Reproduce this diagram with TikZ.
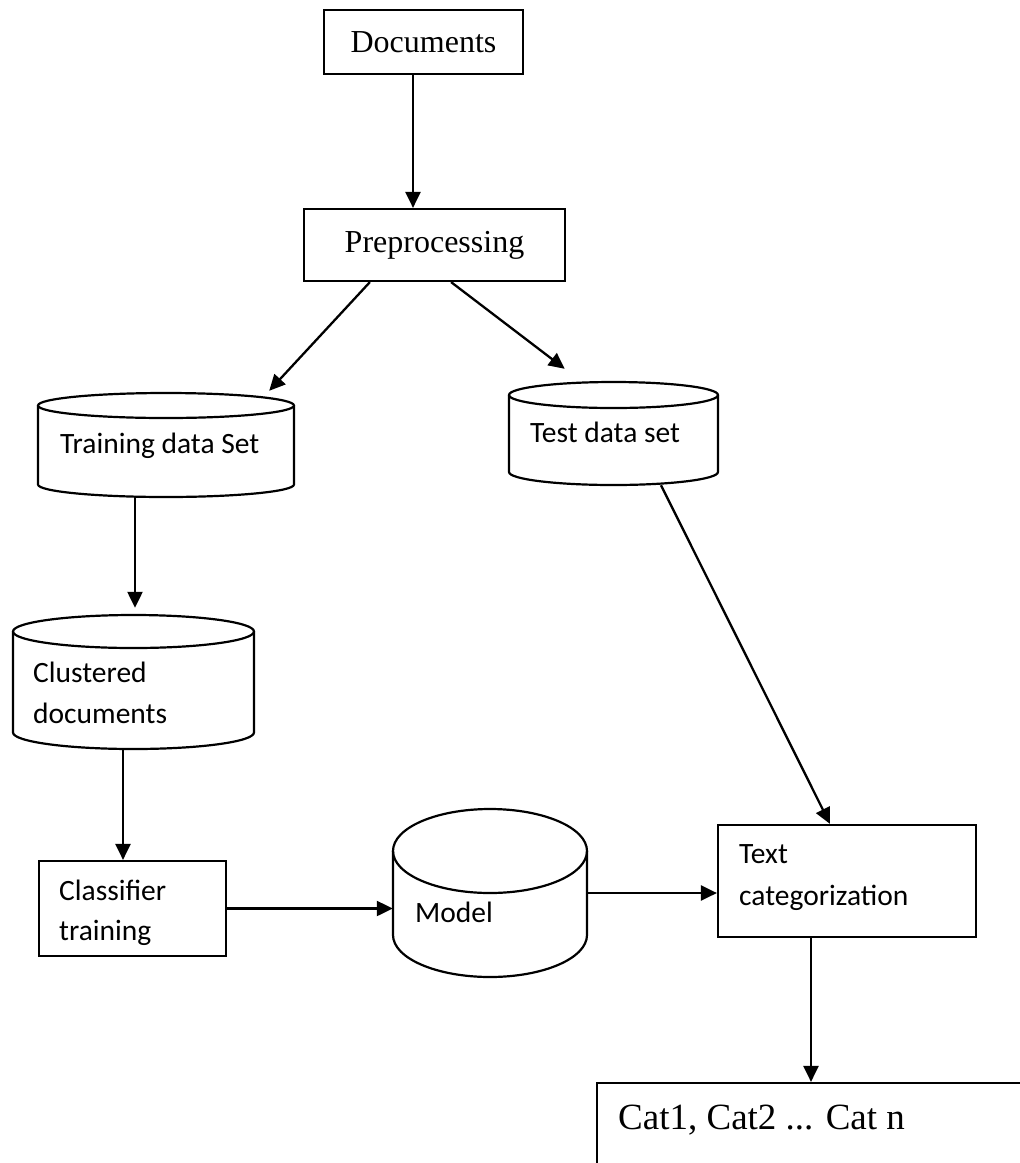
\documentclass[tikz,border=0pt]{standalone}
\usepackage{fontspec}
\setmainfont{Liberation Serif}
\newfontfamily\calib{Carlito}
\usetikzlibrary{arrows.meta}
\tikzset{
  boxline/.style={draw=black,line width=2.2pt},
  cylline/.style={draw=black,line width=2.2pt},
  conn/.style={draw=black,line width=2.3pt,-{Triangle[length=16pt,width=15pt]}},
  serifbig/.style={font=\fontsize{32}{38}\selectfont},
  sanslbl/.style={font=\calib\fontsize{29.5}{35}\selectfont,inner sep=0pt,anchor=base west},
}
\newcommand\dbcyl[6]{%
  \node[draw=none,inner sep=0pt,minimum width={(#3-#2)*1pt},minimum height={(#5-#4)*1pt}] (#1) at ({(#2+#3)/2},{-(#4+#5)/2}) {};
  \draw[cylline] ({(#2+#3)/2},{-#4-#6}) ellipse[x radius={(#3-#2)/2*1pt},y radius={#6*1pt}];
  \draw[cylline] (#2,{-#4-#6}) -- (#2,{-#5+#6}) arc[start angle=180,end angle=360,x radius={(#3-#2)/2*1pt},y radius={#6*1pt}] -- (#3,{-#4-#6});
}
\begin{document}
\begin{tikzpicture}[x=1pt,y=1pt]
\useasboundingbox (0,0) rectangle (1020,-1163);
\clip (0,0) rectangle (1020,-1163);
\fill[white] (0,0) rectangle (1020,-1163);

% rectangles
\node[boxline,serifbig,minimum width=199pt,minimum height=64pt,inner sep=0pt] (doc) at (423.5,-42) {Documents};
\node[boxline,serifbig,minimum width=261pt,minimum height=72pt,inner sep=0pt] (pre) at (434.5,-245) {Preprocessing};
\node[boxline,minimum width=187pt,minimum height=95pt,inner sep=0pt] (cls) at (132.5,-908.5) {};
\node[boxline,minimum width=258pt,minimum height=112pt,inner sep=0pt] (tc) at (847,-881) {};
\node[boxline,minimum width=463pt,minimum height=117pt,inner sep=0pt] (cat) at (828.5,-1141.5) {};

% cylinders
\dbcyl{train}{38}{294}{393}{497}{12.5}
\dbcyl{test}{509}{718}{382}{485}{13}
\dbcyl{clus}{13}{254}{615}{749}{16.5}
\dbcyl{model}{393}{587}{809}{977}{42}

% labels
\node[sanslbl] (trainlbl) at (60,-453) {Training data Set};
\node[sanslbl] (testlbl) at (530,-442) {Test data set};
\node[sanslbl] (cluslblA) at (33,-682) {Clustered};
\node[sanslbl] (cluslblB) at (33,-723) {documents};
\node[sanslbl] (clslblA) at (59,-900) {Classifier};
\node[sanslbl] (clslblB) at (59,-940) {training};
\node[sanslbl] (modellbl) at (415,-922) {Model};
\node[sanslbl] (tclblA) at (739,-863) {Text};
\node[sanslbl] (tclblB) at (739,-905) {categorization};
\node[font=\fontsize{37}{44}\selectfont,inner sep=0pt,anchor=base west] (catlbl) at (618,-1129) {Cat1, Cat2 ... Cat n};

% connectors
\draw[conn] ([xshift=-10.5pt]doc.south) -- ([xshift=-21.5pt]pre.north);
\draw[conn] ([xshift=67pt]pre.south west) -- ([shift={(-25,2)}]train.north east);
\draw[conn] ([xshift=-115pt]pre.south east) -- ([shift={(56,13)}]test.north west);
\draw[conn] ([xshift=-31pt]train.south) -- ([shift={(1.5,7)}]clus.north);
\draw[conn] ([xshift=-10.5pt]clus.south) -- ([xshift=-9.5pt]cls.north);
\draw[conn] (cls.east) -- (cls.east -| model.west);
\draw[conn] (model.east) -- (model.east -| tc.west);
\draw[conn] ([xshift=47.5pt]test.south) -- ([xshift=-17pt]tc.north);
\draw[conn] ([xshift=-36pt]tc.south) -- ([xshift=-36pt]tc.south |- cat.north);
\end{tikzpicture}
\end{document}
